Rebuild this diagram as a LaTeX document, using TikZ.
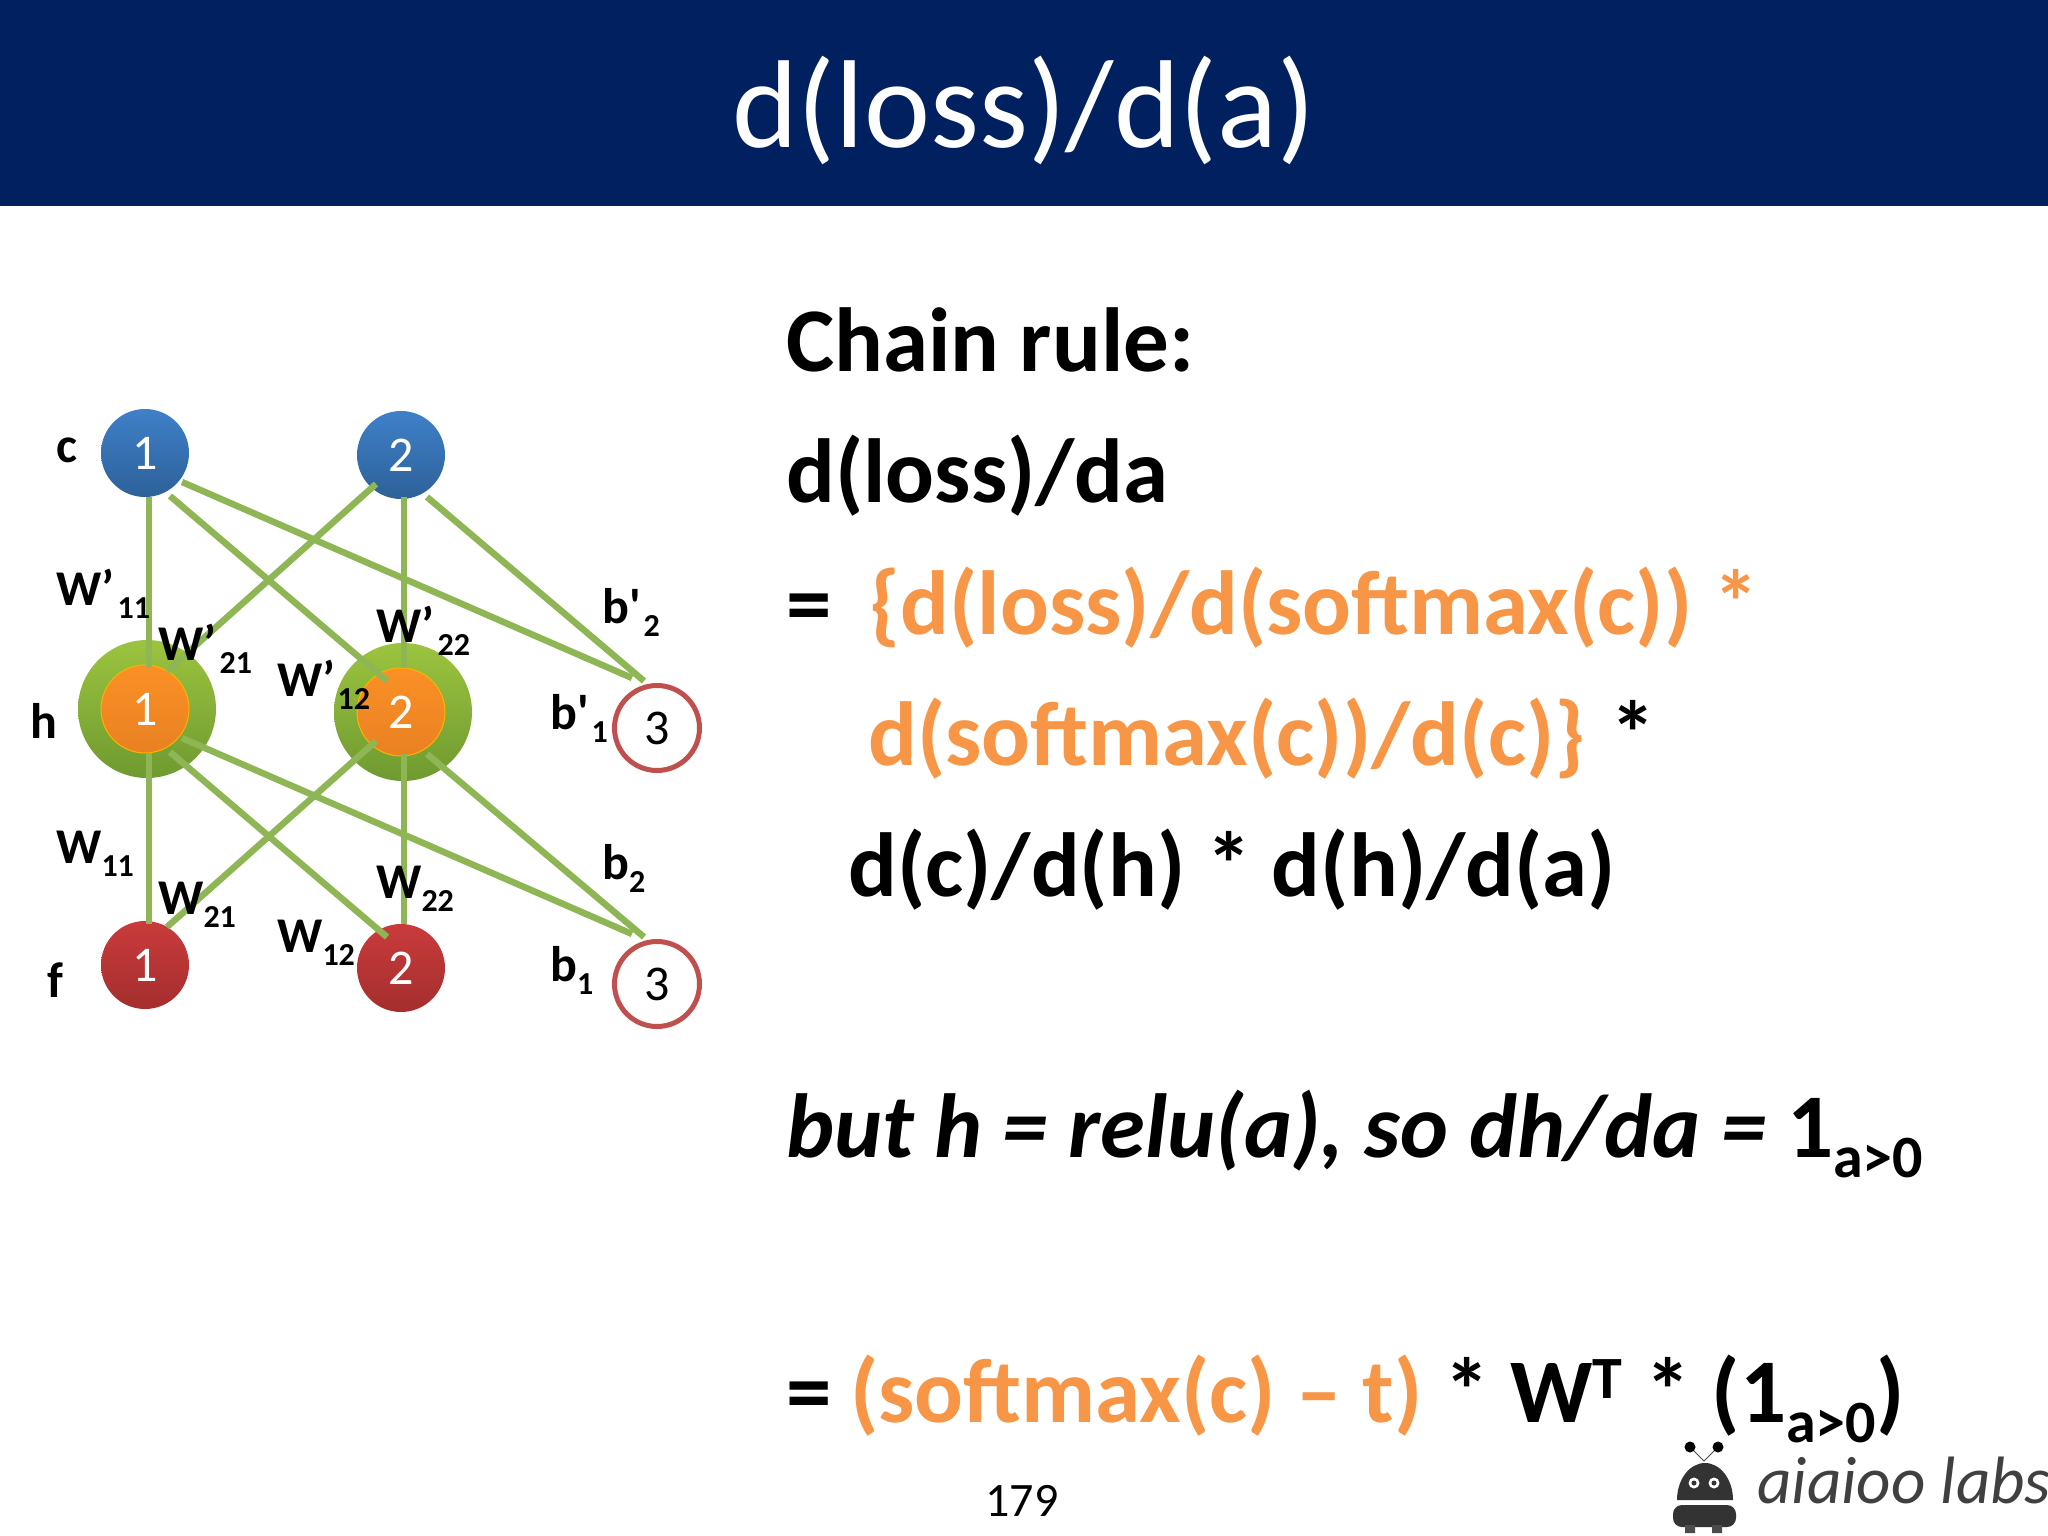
\documentclass[tikz,border=0pt]{standalone}
\usepackage{fontspec}
\setmainfont{Carlito}
\newfontfamily\plainfont{Carlito}
\definecolor{banner}{HTML}{002060}
\definecolor{edgegreen}{HTML}{8FB654}
\definecolor{sumorange}{HTML}{F79646}
\definecolor{ringred}{HTML}{C0504D}
\definecolor{bluetop}{HTML}{3F80C8}
\definecolor{bluebot}{HTML}{2D6199}
\definecolor{orangetop}{HTML}{FA9025}
\definecolor{orangebot}{HTML}{E98122}
\definecolor{redtop}{HTML}{C93B3B}
\definecolor{redbot}{HTML}{A52E2E}
\definecolor{halotop}{HTML}{9CC43F}
\definecolor{halobot}{HTML}{6E9A30}
\newcommand{\px}[1]{\fontsize{#1}{#1}\selectfont}
\newcommand{\wsub}[1]{\raisebox{-13pt}{\px{32}#1}}
\newcommand{\bigsub}[1]{\raisebox{-20pt}{\px{60}#1}}
\newcommand{\tick}{{\plainfont\bfseries\symbol{39}}}
\tikzset{
  neuron/.style={circle,minimum size=88pt,inner sep=0pt,text=white,font=\px{50}},
  bluenode/.style={neuron,top color=bluetop,bottom color=bluebot},
  orangenode/.style={neuron,top color=orangetop,bottom color=orangebot,draw=orange!60!yellow,line width=1pt},
  rednode/.style={neuron,top color=redtop,bottom color=redbot},
  halo/.style={circle,minimum size=138pt,inner sep=0pt,top color=halotop,bottom color=halobot},
  bias/.style={circle,minimum size=85pt,inner sep=0pt,draw=ringred,line width=5pt,fill=white,font=\px{50}},
  edge/.style={edgegreen,line width=6.5pt},
  wlabel/.style={anchor=base west,inner sep=0pt,font=\bfseries\px{50}},
  eqline/.style={anchor=base west,inner sep=0pt,font=\bfseries\px{91}}
}
\begin{document}
\begin{tikzpicture}[x=1pt,y=-1pt]
\useasboundingbox (0,0) rectangle (2048,1536);
\fill[banner] (0,0) rectangle (2048,206);
\node[anchor=base,inner sep=0pt,text=white,font=\px{125}] (title) at (1024,148) {d(loss)/d(a)};

% hidden layer halos first
\node[halo] (h1o) at (147,709) {};
\node[halo] (h2o) at (403,712) {};

\node[bluenode] (c1) at (145,453) {1};
\node[bluenode] (c2) at (401,455) {2};
\node[orangenode] (h1) at (145,709) {1};
\node[orangenode] (h2) at (401,712) {2};
\node[rednode] (f1) at (145,965) {1};
\node[rednode] (f2) at (401,968) {2};
\node[bias] (r1) at (657,728) {3};
\node[bias] (r2) at (657,984) {3};

% upper weights
\draw[edge] ([shift={(4,44)}]c1.center) -- ([shift={(4,-41)}]h1.center);
\draw[edge] ([shift={(25,43)}]c1.center) -- ([shift={(-14,-31)}]h2.center);
\draw[edge] ([shift={(37,29)}]c1.center) -- ([shift={(-25,-50)}]r1.center);
\draw[edge] ([shift={(-25,29)}]c2.center) -- ([shift={(22,-38)}]h1.center);
\draw[edge] ([shift={(3,42)}]c2.center) -- ([shift={(3,-44)}]h2.center);
\draw[edge] ([shift={(26,42)}]c2.center) -- ([shift={(-13,-47)}]r1.center);

% lower weights
\draw[edge] ([shift={(4,44)}]h1.center) -- ([shift={(4,-41)}]f1.center);
\draw[edge] ([shift={(25,43)}]h1.center) -- ([shift={(-14,-31)}]f2.center);
\draw[edge] ([shift={(37,29)}]h1.center) -- ([shift={(-25,-50)}]r2.center);
\draw[edge] ([shift={(-25,29)}]h2.center) -- ([shift={(22,-38)}]f1.center);
\draw[edge] ([shift={(3,42)}]h2.center) -- ([shift={(3,-44)}]f2.center);
\draw[edge] ([shift={(26,42)}]h2.center) -- ([shift={(-13,-47)}]r2.center);

\node[wlabel] (lc) at (56,462) {c};
\node[wlabel] (lh) at (30,738) {h};
\node[wlabel] (lf) at (47,997) {f};

\node[wlabel] (wp11) at (56,605) {W’\hspace{3pt}\wsub{11}};
\node[wlabel] (wp21) at (158,660) {W’\hspace{3pt}\wsub{21}};
\node[wlabel] (wp12) at (277,696) {W’\hspace{2pt}\wsub{12}};
\node[wlabel] (wp22) at (376,642) {W’\hspace{3pt}\wsub{22}};
\node[wlabel] (bp2) at (602,623) {b\tick\hspace{3pt}\wsub{2}};
\node[wlabel] (bp1) at (550,729) {b\tick\hspace{3pt}\wsub{1}};

\node[wlabel] (w11) at (56,863) {W\wsub{11}};
\node[wlabel] (w21) at (158,914) {W\wsub{21}};
\node[wlabel] (w12) at (277,952) {W\wsub{12}};
\node[wlabel] (w22) at (376,898) {W\wsub{22}};
\node[wlabel] (b2) at (602,879) {b\wsub{2}};
\node[wlabel] (b1) at (550,981) {b\wsub{1}};

\node[eqline] (chain) at (786,371) {Chain rule:};
\node[eqline] (dda) at (786,502) {d(loss)/da};
\node[eqline] (eqa) at (786,634) {=};
\node[eqline,text=sumorange] (eqb) at (869,634) {\{d(loss)/d(softmax(c)) *};
\node[eqline,text=sumorange] (eqc) at (868,765) {d(softmax(c))/d(c)\}};
\node[eqline] (star) at (1610,765) {*};
\node[eqline] (eqd) at (848,896) {d(c)/d(h) * d(h)/d(a)};
\node[eqline,font=\bfseries\itshape\px{91}] (but) at (786,1157) {but h = relu(a), so dh/da = {\upshape 1}\bigsub{\upshape a>0}};
\node[eqline] (last) at (786,1422) {=\hspace{-2pt} \textcolor{sumorange}{(softmax(c) – t)}\hspace{1pt} * W\raisebox{24pt}{\px{60}T}\hspace{3pt} * (1\bigsub{a>0})};
\node[anchor=base,inner sep=0pt,font=\px{48}] (page) at (1022,1516) {179};

% logo
\fill[black!80] (1677,1500) arc (180:360:28 and 37) -- cycle;
\fill[black!80,rounded corners=9pt] (1673,1505) rectangle (1736,1527);
\fill[black!70] (1685,1525) rectangle (1695,1533) (1712,1525) rectangle (1722,1533);
\draw[black!70,line width=1pt] (1690,1447) -- (1704,1461) -- (1718,1447);
\fill[black] (1690,1447) circle (5.5) (1718,1447) circle (5.5);
\fill[white] (1694,1483) circle (5.5) (1714,1483) circle (5.5);
\fill[black!80] (1694,1483) circle (2.5) (1714,1483) circle (2.5);
\node[anchor=base west,inner sep=0pt,text=black!75,font=\itshape\px{67}] (labs) at (1757,1503) {aiaioo labs};
\end{tikzpicture}
\end{document}
